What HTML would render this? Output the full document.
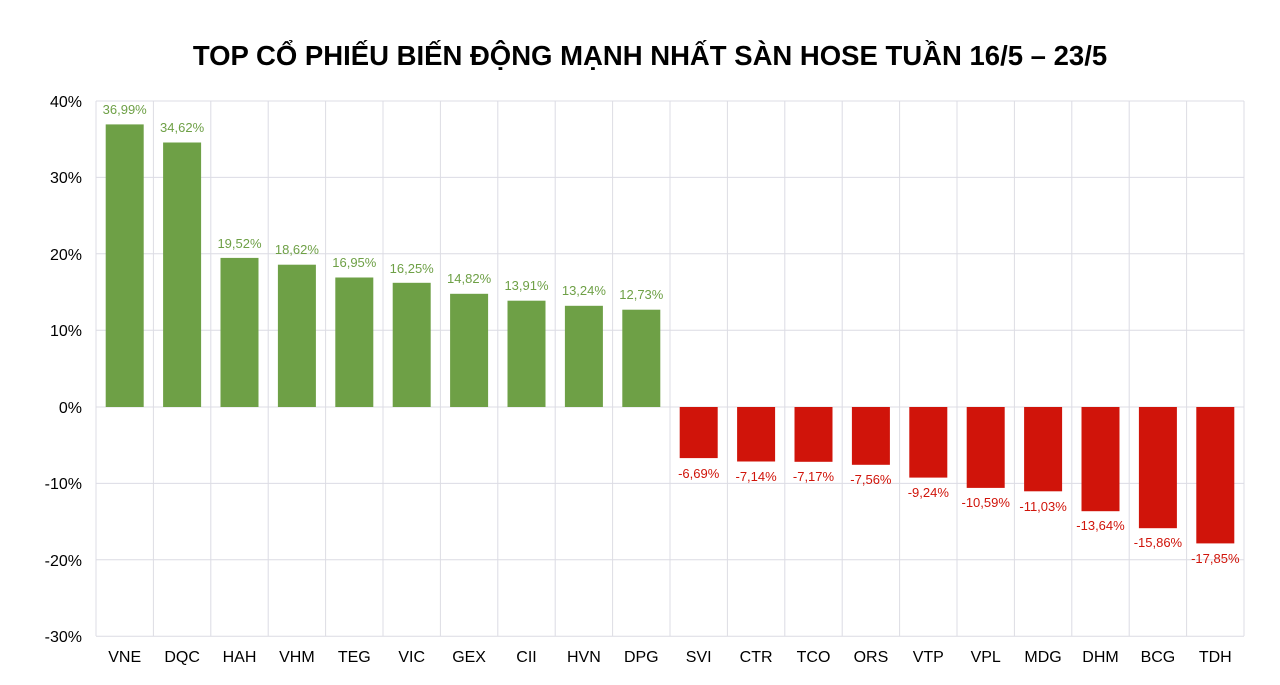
<!DOCTYPE html>
<html><head><meta charset="utf-8"><style>
html,body{margin:0;padding:0;background:#fff;}
svg{display:block;font-family:"Liberation Sans",Arial,sans-serif;}
</style></head><body>
<svg width="1280" height="685" viewBox="0 0 1280 685">
<rect width="1280" height="685" fill="#fff"/>
<text x="650" y="65" text-anchor="middle" font-size="27.5" font-weight="bold" fill="#000">TOP CỔ PHIẾU BIẾN ĐỘNG MẠNH NHẤT SÀN HOSE TUẦN 16/5 – 23/5</text>
<g stroke="#dcdce4" stroke-width="1">
<line x1="96" y1="101" x2="1244" y2="101"/><line x1="96" y1="177.4" x2="1244" y2="177.4"/><line x1="96" y1="253.8" x2="1244" y2="253.8"/><line x1="96" y1="330.2" x2="1244" y2="330.2"/><line x1="96" y1="407" x2="1244" y2="407"/><line x1="96" y1="483.4" x2="1244" y2="483.4"/><line x1="96" y1="559.8" x2="1244" y2="559.8"/><line x1="96" y1="636.2" x2="1244" y2="636.2"/>
<line x1="96" y1="101" x2="96" y2="636"/><line x1="153.4" y1="101" x2="153.4" y2="636"/><line x1="210.8" y1="101" x2="210.8" y2="636"/><line x1="268.2" y1="101" x2="268.2" y2="636"/><line x1="325.6" y1="101" x2="325.6" y2="636"/><line x1="383" y1="101" x2="383" y2="636"/><line x1="440.4" y1="101" x2="440.4" y2="636"/><line x1="497.8" y1="101" x2="497.8" y2="636"/><line x1="555.2" y1="101" x2="555.2" y2="636"/><line x1="612.6" y1="101" x2="612.6" y2="636"/><line x1="670" y1="101" x2="670" y2="636"/><line x1="727.4" y1="101" x2="727.4" y2="636"/><line x1="784.8" y1="101" x2="784.8" y2="636"/><line x1="842.2" y1="101" x2="842.2" y2="636"/><line x1="899.6" y1="101" x2="899.6" y2="636"/><line x1="957" y1="101" x2="957" y2="636"/><line x1="1014.4" y1="101" x2="1014.4" y2="636"/><line x1="1071.8" y1="101" x2="1071.8" y2="636"/><line x1="1129.2" y1="101" x2="1129.2" y2="636"/><line x1="1186.6" y1="101" x2="1186.6" y2="636"/><line x1="1244" y1="101" x2="1244" y2="636"/>
</g>
<g font-size="16" fill="#000" text-anchor="end">
<text x="82" y="107">40%</text><text x="82" y="183">30%</text><text x="82" y="260">20%</text><text x="82" y="336">10%</text><text x="82" y="413">0%</text><text x="82" y="489">-10%</text><text x="82" y="566">-20%</text><text x="82" y="642">-30%</text>
</g>
<g fill="#6ea046">
<rect x="105.7" y="124.4" width="38" height="282.6"/><rect x="163.1" y="142.5" width="38" height="264.5"/><rect x="220.5" y="257.9" width="38" height="149.1"/><rect x="277.9" y="264.7" width="38" height="142.3"/><rect x="335.3" y="277.5" width="38" height="129.5"/><rect x="392.7" y="282.8" width="38" height="124.2"/><rect x="450.1" y="293.8" width="38" height="113.2"/><rect x="507.5" y="300.7" width="38" height="106.3"/><rect x="564.9" y="305.8" width="38" height="101.2"/><rect x="622.3" y="309.7" width="38" height="97.3"/>
</g>
<g fill="#d0140a">
<rect x="679.7" y="407" width="38" height="51.1"/><rect x="737.1" y="407" width="38" height="54.5"/><rect x="794.5" y="407" width="38" height="54.8"/><rect x="851.9" y="407" width="38" height="57.8"/><rect x="909.3" y="407" width="38" height="70.6"/><rect x="966.7" y="407" width="38" height="80.9"/><rect x="1024.1" y="407" width="38" height="84.3"/><rect x="1081.5" y="407" width="38" height="104.2"/><rect x="1138.9" y="407" width="38" height="121.2"/><rect x="1196.3" y="407" width="38" height="136.4"/>
</g>
<g font-size="13" fill="#6ea046" text-anchor="middle">
<text x="124.7" y="114">36,99%</text><text x="182.1" y="132">34,62%</text><text x="239.5" y="248">19,52%</text><text x="296.9" y="254">18,62%</text><text x="354.3" y="267">16,95%</text><text x="411.7" y="273">16,25%</text><text x="469.1" y="283">14,82%</text><text x="526.5" y="290">13,91%</text><text x="583.9" y="295">13,24%</text><text x="641.3" y="299">12,73%</text>
</g>
<g font-size="13" fill="#d0140a" text-anchor="middle">
<text x="698.7" y="478">-6,69%</text><text x="756.1" y="481">-7,14%</text><text x="813.5" y="481">-7,17%</text><text x="870.9" y="484">-7,56%</text><text x="928.3" y="497">-9,24%</text><text x="985.7" y="507">-10,59%</text><text x="1043.1" y="511">-11,03%</text><text x="1100.5" y="530">-13,64%</text><text x="1157.9" y="547">-15,86%</text><text x="1215.3" y="563">-17,85%</text>
</g>
<g font-size="16" fill="#000" text-anchor="middle">
<text x="124.7" y="662">VNE</text><text x="182.1" y="662">DQC</text><text x="239.5" y="662">HAH</text><text x="296.9" y="662">VHM</text><text x="354.3" y="662">TEG</text><text x="411.7" y="662">VIC</text><text x="469.1" y="662">GEX</text><text x="526.5" y="662">CII</text><text x="583.9" y="662">HVN</text><text x="641.3" y="662">DPG</text><text x="698.7" y="662">SVI</text><text x="756.1" y="662">CTR</text><text x="813.5" y="662">TCO</text><text x="870.9" y="662">ORS</text><text x="928.3" y="662">VTP</text><text x="985.7" y="662">VPL</text><text x="1043.1" y="662">MDG</text><text x="1100.5" y="662">DHM</text><text x="1157.9" y="662">BCG</text><text x="1215.3" y="662">TDH</text>
</g>
</svg>
</body></html>
